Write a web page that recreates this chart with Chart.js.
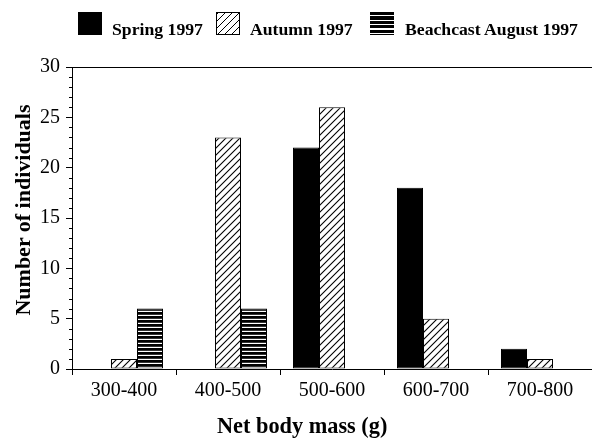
<!DOCTYPE html>
<html><head><meta charset="utf-8">
<script src="https://cdn.jsdelivr.net/npm/chart.js@4/dist/chart.umd.min.js"></script>
<style>
html,body{margin:0;padding:0;background:#fff;}
#wrap{position:relative;width:592px;height:438px;overflow:hidden;font-family:"Liberation Serif","Times New Roman",serif;color:#000;background:#fff;}
canvas{position:absolute;left:0;top:0;}
.sw{position:absolute;top:12px;width:24px;height:23px;box-sizing:border-box;}
.lt{position:absolute;top:19px;font-weight:bold;font-size:17.7px;line-height:20px;white-space:nowrap;}
#xt{position:absolute;left:217px;top:415px;font-weight:bold;font-size:22.3px;line-height:22px;white-space:nowrap;}
#yt{position:absolute;left:-127px;top:197px;width:300px;height:26px;line-height:26px;text-align:center;font-weight:bold;font-size:22px;white-space:nowrap;transform:rotate(-90deg);}
</style></head>
<body>
<div id="wrap">
<canvas id="c" width="592" height="438"></canvas>
<div class="sw" style="left:78px;background:#000;"></div>
<div class="lt" id="l0" style="left:112px;"></div>
<div class="sw" style="left:216px;border:1px solid #000;background:repeating-linear-gradient(135deg,#000 0 1px,#fff 1px 5px);"></div>
<div class="lt" id="l1" style="left:250px;"></div>
<div class="sw" style="left:370px;background:repeating-linear-gradient(180deg,#000 0 3px,#fff 3px 4.5px);"></div>
<div class="lt" id="l2" style="left:405px;"></div>
<div id="xt"></div>
<div id="yt"></div>
</div>
<script>
const categories = ['300-400', '400-500', '500-600', '600-700', '700-800'];
const spring1997 = [0, 0, 22, 18, 2];
const autumn1997 = [1, 23, 26, 5, 1];
const beachcastAug1997 = [6, 6, 0, 0, 0];
const seriesNames = ['Spring 1997', 'Autumn 1997', 'Beachcast August 1997'];
const yMin = 0, yMax = 30, yStep = 5;
const xTitle = 'Net body mass (g)';
const yTitle = 'Number of individuals';

document.getElementById('l0').textContent = seriesNames[0];
document.getElementById('l1').textContent = seriesNames[1];
document.getElementById('l2').textContent = seriesNames[2];
document.getElementById('xt').textContent = xTitle;
document.getElementById('yt').textContent = yTitle;

function hatchPattern() {
  const s = 7, c = document.createElement('canvas');
  c.width = s; c.height = s;
  const g = c.getContext('2d');
  g.fillStyle = '#fff'; g.fillRect(0, 0, s, s);
  g.strokeStyle = '#000'; g.lineWidth = 1.1;
  g.beginPath();
  g.moveTo(0, s); g.lineTo(s, 0);
  g.moveTo(-1, 1); g.lineTo(1, -1);
  g.moveTo(s - 1, s + 1); g.lineTo(s + 1, s - 1);
  g.stroke();
  return g.createPattern(c, 'repeat');
}
function stripePattern() {
  const c = document.createElement('canvas');
  c.width = 4; c.height = 4;
  const g = c.getContext('2d');
  g.fillStyle = '#000'; g.fillRect(0, 0, 4, 4);
  g.fillStyle = '#fff'; g.fillRect(0, 2.8, 4, 1.2);
  return g.createPattern(c, 'repeat');
}

const framePlugin = {
  id: 'frame',
  afterDraw(chart) {
    const {ctx, chartArea: a, scales: {y}} = chart;
    ctx.save();
    ctx.strokeStyle = '#000'; ctx.lineWidth = 1;
    ctx.beginPath();
    ctx.moveTo(a.left, Math.round(a.top) + 0.5);
    ctx.lineTo(a.right, Math.round(a.top) + 0.5);
    for (let v = yMin; v <= yMax; v++) {
      if (v % yStep === 0) continue;
      const py = Math.round(y.getPixelForValue(v)) + 0.5;
      ctx.moveTo(a.left - 3, py); ctx.lineTo(a.left, py);
    }
    ctx.stroke();
    ctx.restore();
  }
};

const tickFont = {family: '"Liberation Serif", "Times New Roman", serif', size: 20};

new Chart(document.getElementById('c'), {
  type: 'bar',
  data: {
    labels: categories,
    datasets: [
      {label: seriesNames[0], data: spring1997, backgroundColor: '#000', borderColor: '#000', borderWidth: 1},
      {label: seriesNames[1], data: autumn1997, backgroundColor: hatchPattern(), borderColor: '#000', borderWidth: 1},
      {label: seriesNames[2], data: beachcastAug1997, backgroundColor: stripePattern(), borderColor: '#000', borderWidth: 1}
    ]
  },
  options: {
    responsive: false,
    animation: false,
    devicePixelRatio: 1,
    layout: {padding: {top: 67, right: 0, bottom: 0, left: 0}},
    datasets: {bar: {categoryPercentage: 0.75, barPercentage: 1.0, borderSkipped: false}},
    plugins: {legend: {display: false}, tooltip: {enabled: false}},
    scales: {
      x: {
        offset: true,
        grid: {offset: true, drawOnChartArea: false, tickLength: 6, tickColor: '#000', color: '#000'},
        border: {display: true, color: '#000', width: 1},
        ticks: {font: tickFont, color: '#000', padding: 4, maxRotation: 0, autoSkip: false},
        afterFit(s) { s.height = 69; }
      },
      y: {
        min: yMin, max: yMax,
        grid: {drawOnChartArea: false, tickLength: 6, tickColor: '#000', color: '#000'},
        border: {display: true, color: '#000', width: 1},
        ticks: {stepSize: yStep, font: tickFont, color: '#000', padding: 6},
        afterFit(s) { s.width = 72; }
      }
    }
  },
  plugins: [framePlugin]
});
</script>
</body></html>
